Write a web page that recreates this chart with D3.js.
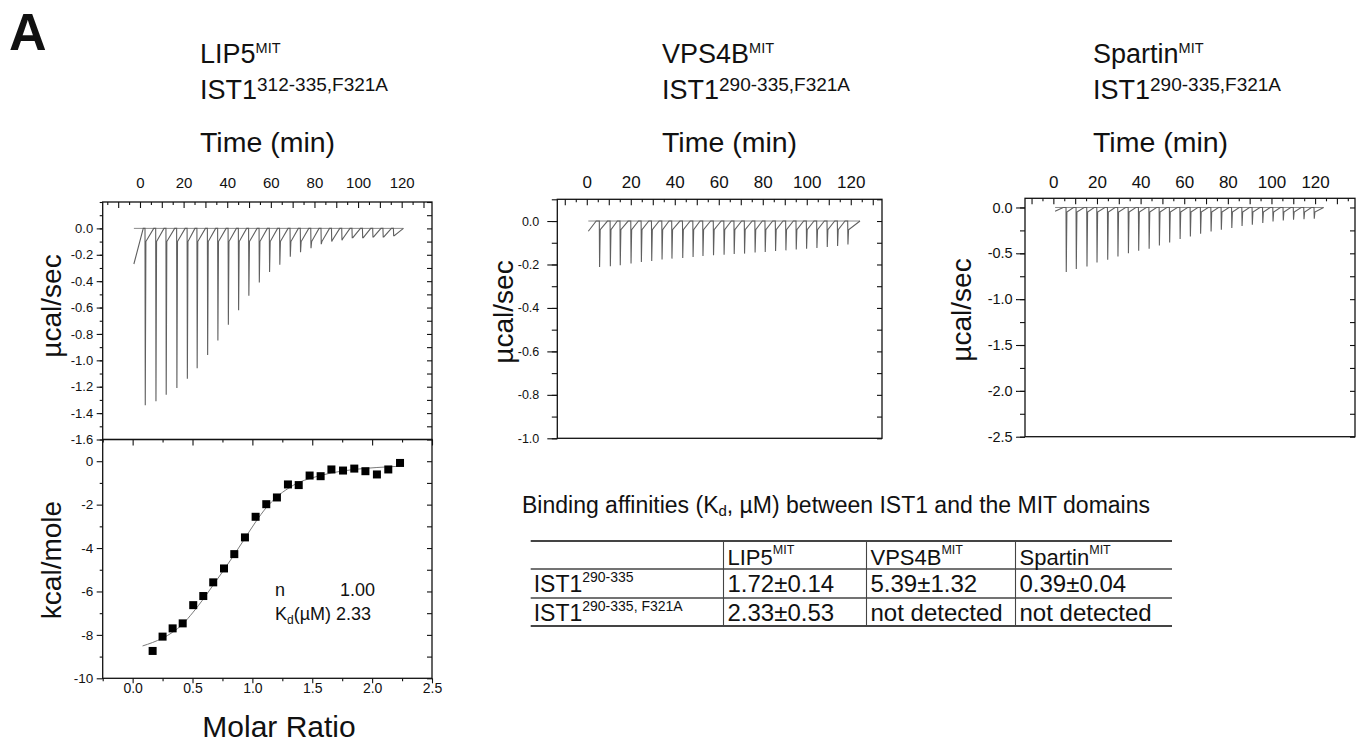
<!DOCTYPE html>
<html>
<head>
<meta charset="utf-8">
<script src="https://cdn.jsdelivr.net/npm/d3@7"></script>
<style>
  body { margin: 0; background: #fff; }
  text { font-family: "Liberation Sans", Arial, Helvetica, sans-serif; fill: #111; }
</style>
</head>
<body>
<svg id="fig" width="1369" height="744"></svg>
<script>
// ---- data ----
const timeLabels = [0, 20, 40, 60, 80, 100, 120];

// LIP5 MIT / IST1 312-335 F321A thermogram
const lipPeakTime  = [2.3, 7.2, 11.9, 16.8, 21.6, 26.1, 30.9, 35.6, 40.4, 45.1, 49.8, 54.6, 59.3,
                      64.0, 68.8, 73.5, 78.3, 83.0, 87.8, 92.5, 97.2, 102.0, 106.7, 111.4, 116.2];
const lipPeakDepth = [-1.34, -1.31, -1.26, -1.21, -1.14, -1.06, -0.96, -0.85, -0.73, -0.62, -0.51, -0.41, -0.33,
                      -0.275, -0.215, -0.18, -0.15, -0.12, -0.10, -0.09, -0.07, -0.07, -0.065, -0.065, -0.055];
const lipKnee      = [-0.1, -0.1, -0.1, -0.1, -0.1, -0.1, -0.1, -0.1, -0.1, -0.1, -0.1, -0.1, -0.1,
                      -0.1, -0.1, -0.1, -0.1, -0.1, -0.09, -0.08, -0.07, -0.07, -0.065, -0.065, -0.055];
const lipStart = [[-2.8, -0.27], [1.5, 0]];
const lipBase  = [-2.8, 120.8];

// VPS4B MIT thermogram
const vpsPeakTime  = [5.7, 10.6, 15.1, 20.0, 24.7, 29.4, 34.1, 38.6, 43.5, 48.2, 52.7, 57.5, 62.3,
                      66.9, 71.6, 76.4, 81.0, 85.7, 90.4, 95.1, 99.8, 104.5, 109.2, 113.9, 118.6];
const vpsPeakDepth = [-0.211, -0.208, -0.204, -0.196, -0.188, -0.184, -0.177, -0.173, -0.17, -0.165, -0.161, -0.158, -0.155,
                      -0.152, -0.15, -0.145, -0.143, -0.138, -0.135, -0.131, -0.127, -0.124, -0.12, -0.115, -0.108];
const vpsKnee      = [-0.04, -0.04, -0.04, -0.04, -0.04, -0.04, -0.04, -0.04, -0.04, -0.04, -0.04, -0.04, -0.04,
                      -0.04, -0.04, -0.04, -0.04, -0.04, -0.04, -0.04, -0.04, -0.04, -0.04, -0.04, -0.04];
const vpsStart = [[0.7, -0.047], [4.3, 0]];
const vpsBase  = [0.7, 124.2];

// Spartin MIT thermogram
const spaPeakTime  = [5.8, 10.4, 15.3, 19.9, 24.8, 29.5, 34.3, 39.0, 43.8, 48.5, 53.2, 58.0, 62.7,
                      67.4, 72.2, 76.9, 81.7, 86.4, 91.1, 95.9, 100.6, 105.3, 110.0, 114.8, 119.5];
const spaPeakDepth = [-0.705, -0.67, -0.644, -0.60, -0.571, -0.535, -0.498, -0.473, -0.451, -0.415, -0.382, -0.345, -0.316,
                      -0.287, -0.262, -0.243, -0.225, -0.203, -0.189, -0.17, -0.153, -0.142, -0.134, -0.127, -0.123];
const spaKnee      = [-0.05, -0.05, -0.05, -0.05, -0.05, -0.05, -0.05, -0.05, -0.05, -0.05, -0.05, -0.05, -0.05,
                      -0.05, -0.05, -0.05, -0.05, -0.05, -0.05, -0.05, -0.05, -0.05, -0.05, -0.05, -0.05];
const spaStart = [[0.8, -0.04], [4.5, 0]];
const spaBase  = [0.8, 123.9];

// integrated heats, LIP5
const molarRatio = [0.167, 0.25, 0.334, 0.418, 0.506, 0.59, 0.673, 0.763, 0.849, 0.938, 1.027, 1.116,
                    1.205, 1.297, 1.387, 1.478, 1.57, 1.66, 1.757, 1.851, 1.944, 2.04, 2.135, 2.233];
const heat = [-8.74, -8.08, -7.70, -7.47, -6.63, -6.21, -5.58, -4.94, -4.28, -3.51, -2.56, -1.98,
              -1.67, -1.07, -1.10, -0.66, -0.69, -0.38, -0.43, -0.34, -0.46, -0.61, -0.38, -0.08];
const fitRatio = [0.083, 0.167, 0.25, 0.334, 0.418, 0.506, 0.59, 0.673, 0.763, 0.849, 0.938, 1.027,
                  1.116, 1.205, 1.297, 1.387, 1.478, 1.66, 1.851, 2.04, 2.233];
const fitHeat = [-8.51, -8.35, -8.15, -7.88, -7.5, -6.95, -6.35, -5.7, -5.0, -4.3, -3.55, -2.8,
                 -2.14, -1.64, -1.26, -0.98, -0.8, -0.54, -0.38, -0.29, -0.23];

// table
const tableHeads = ["LIP5", "VPS4B", "Spartin"];
const rowNames = ["290-335", "290-335, F321A"];
const rowValues = [["1.72±0.14", "5.39±1.32", "0.39±0.04"],
                   ["2.33±0.53", "not detected", "not detected"]];

// ---- drawing ----
const svg = d3.select("#fig");

function addText(x, y, size, parts, opts = {}) {
  const t = svg.append("text").attr("x", x).attr("y", y).style("font-size", size + "px");
  if (opts.weight) t.style("font-weight", opts.weight);
  if (opts.anchor) t.attr("text-anchor", opts.anchor);
  parts.forEach(p => {
    const s = t.append("tspan").text(p.t);
    if (p.size) s.style("font-size", p.size + "px");
    if (p.dy) s.attr("dy", p.dy);
  });
  return t;
}

function yTitle(x, y, txt) {
  svg.append("text")
    .attr("transform", `translate(${x},${y}) rotate(-90)`)
    .attr("text-anchor", "middle")
    .style("font-size", "28px")
    .text(txt);
}

function styleAxis(g, width) {
  g.select(".domain").remove();
  g.selectAll("line").attr("stroke", "#111").attr("stroke-width", width || 1.1);
}

const fmt1 = d => d.toFixed(1);

const thermo = [
  { x0: 102.7, x1: 432, y0: 202, y1: 439.5, t: [-17.1, 133.9], v: [-1.6, 0.2],
    major: 0.2, right: 0.1, tick: 6, minor: 3, pad: 3.5, lab: 13, tlab: 15,
    times: lipPeakTime, depths: lipPeakDepth, knees: lipKnee, start: lipStart, base: lipBase, gap: 0.9 },
  { x0: 557.3, x1: 882, y0: 199.3, y1: 438.3, t: [-13.4, 134.2], v: [-1.0, 0.1],
    major: 0.2, right: 0.1, tick: 10, minor: 5.5, pad: 8, lab: 12.5, tlab: 17,
    times: vpsPeakTime, depths: vpsPeakDepth, knees: vpsKnee, start: vpsStart, base: vpsBase, gap: 1.2 },
  { x0: 1025, x1: 1355, y0: 198.3, y1: 436.7, t: [-13.0, 138.3], v: [-2.5, 0.1],
    major: 0.5, right: 0.25, tick: 9, minor: 5, pad: 3.3, lab: 14.5, tlab: 17,
    times: spaPeakTime, depths: spaPeakDepth, knees: spaKnee, start: spaStart, base: spaBase, gap: 1.2 }
];

thermo.forEach(p => {
  const x = d3.scaleLinear().domain(p.t).range([p.x0, p.x1]);
  const y = d3.scaleLinear().domain(p.v).range([p.y1, p.y0]);
  const lo = p.v[0];
  const majorVals = d3.range(Math.round((0 - lo) / p.major) + 1).map(i => +(lo + i * p.major).toFixed(2));
  const minorVals = d3.range(Math.round((p.v[1] - lo) / (p.major / 2)) + 1)
    .map(i => +(lo + i * p.major / 2).toFixed(3));
  const rightVals = d3.range(Math.round((p.v[1] - lo) / p.right) + 1).map(i => +(lo + i * p.right).toFixed(3));
  const t5 = d3.range(Math.ceil(p.t[0] / 5), Math.floor(p.t[1] / 5) + 1).map(i => i * 5);

  // left axis
  styleAxis(svg.append("g").attr("transform", `translate(${p.x0},0)`)
    .call(d3.axisLeft(y).tickValues(minorVals).tickSize(p.minor).tickFormat("")));
  const gl = svg.append("g").attr("transform", `translate(${p.x0},0)`)
    .call(d3.axisLeft(y).tickValues(majorVals).tickSize(p.tick).tickPadding(p.pad).tickFormat(fmt1));
  styleAxis(gl);
  gl.selectAll("text").style("font-size", p.lab + "px").attr("fill", "#111");

  // right axis, ticks inward
  styleAxis(svg.append("g").attr("transform", `translate(${p.x1},0)`)
    .call(d3.axisLeft(y).tickValues(rightVals).tickSize(5).tickFormat("")));

  // top time axis, ticks inward
  styleAxis(svg.append("g").attr("transform", `translate(0,${p.y0})`)
    .call(d3.axisBottom(x).tickValues(t5.filter(d => d % 10 !== 0)).tickSize(3).tickFormat("")));
  styleAxis(svg.append("g").attr("transform", `translate(0,${p.y0})`)
    .call(d3.axisBottom(x).tickValues(t5.filter(d => d % 10 === 0)).tickSize(6).tickFormat("")));
  const gt = svg.append("g").attr("transform", `translate(0,${p.y0})`)
    .call(d3.axisTop(x).tickValues(timeLabels).tickSize(0).tickPadding(p.y0 - 187.5));
  gt.select(".domain").remove();
  gt.selectAll("text").style("font-size", p.tlab + "px").attr("fill", "#111");

  // baseline
  svg.append("line")
    .attr("x1", x(p.base[0])).attr("x2", x(p.base[1]))
    .attr("y1", y(0)).attr("y2", y(0))
    .attr("stroke", "#8a8a8a").attr("stroke-width", 1);

  // raw trace built from each injection peak
  const pts = p.start.slice();
  p.times.forEach((t0, i) => {
    const tEnd = i < p.times.length - 1 ? p.times[i + 1] - p.gap : p.base[1];
    pts.push([t0, 0], [t0 + 0.12, p.depths[i]], [t0 + 0.4, p.knees[i]], [tEnd, 0]);
  });
  svg.append("path")
    .attr("d", d3.line().x(d => x(d[0])).y(d => y(d[1]))(pts))
    .attr("fill", "none").attr("stroke", "#5f5f5f").attr("stroke-width", 1.1);

  // frame
  svg.append("rect")
    .attr("x", p.x0).attr("y", p.y0)
    .attr("width", p.x1 - p.x0).attr("height", p.y1 - p.y0)
    .attr("fill", "none").attr("stroke", "#111").attr("stroke-width", 1.3);
});

// ---- integrated heat panel ----
const bx = d3.scaleLinear().domain([-0.25, 2.5]).range([102.7, 432]);
const by = d3.scaleLinear().domain([-10, 1]).range([678.3, 439.5]);
const q = d3.range(-1, 11).map(i => i * 0.25);
const qMaj = q.filter(d => Math.abs(d * 2 - Math.round(d * 2)) < 1e-9);
const qMin = q.filter(d => !qMaj.includes(d));
const hMaj = [-10, -8, -6, -4, -2, 0];
const hMin = [-9, -7, -5, -3, -1];
const hAll = d3.range(-10, 1);

styleAxis(svg.append("g").attr("transform", "translate(102.7,0)")
  .call(d3.axisLeft(by).tickValues(hMin).tickSize(3).tickFormat("")));
const bl = svg.append("g").attr("transform", "translate(102.7,0)")
  .call(d3.axisLeft(by).tickValues(hMaj).tickSize(6).tickPadding(3.5).tickFormat(d3.format("d")));
styleAxis(bl);
bl.selectAll("text").style("font-size", "13.5px").attr("fill", "#111").text(d => String(d));

styleAxis(svg.append("g").attr("transform", "translate(432,0)")
  .call(d3.axisLeft(by).tickValues(hAll).tickSize(5).tickFormat("")));

styleAxis(svg.append("g").attr("transform", "translate(0,439.5)")
  .call(d3.axisBottom(bx).tickValues(qMaj).tickSize(6).tickFormat("")));
styleAxis(svg.append("g").attr("transform", "translate(0,439.5)")
  .call(d3.axisBottom(bx).tickValues(qMin).tickSize(3).tickFormat("")));

styleAxis(svg.append("g").attr("transform", "translate(0,678.3)")
  .call(d3.axisBottom(bx).tickValues(qMaj).tickSize(5).tickFormat("")));
styleAxis(svg.append("g").attr("transform", "translate(0,678.3)")
  .call(d3.axisBottom(bx).tickValues(qMin).tickSize(3).tickFormat("")));
const bb = svg.append("g").attr("transform", "translate(0,678.3)")
  .call(d3.axisBottom(bx).tickValues([0, 0.5, 1, 1.5, 2, 2.5]).tickSize(0).tickPadding(5).tickFormat(fmt1));
bb.select(".domain").remove();
bb.selectAll("text").style("font-size", "14px").attr("fill", "#111");

// fit curve
svg.append("path")
  .datum(fitRatio.map((r, i) => [r, fitHeat[i]]))
  .attr("d", d3.line().x(d => bx(d[0])).y(d => by(d[1])).curve(d3.curveMonotoneX))
  .attr("fill", "none").attr("stroke", "#7a7a7a").attr("stroke-width", 1);

// data squares
const sq = 8;
svg.selectAll("rect.pt")
  .data(molarRatio.map((r, i) => [r, heat[i]]))
  .enter().append("rect").attr("class", "pt")
  .attr("x", d => bx(d[0]) - sq / 2).attr("y", d => by(d[1]) - sq / 2)
  .attr("width", sq).attr("height", sq).attr("fill", "#000");

svg.append("rect")
  .attr("x", 102.7).attr("y", 439.5).attr("width", 432 - 102.7).attr("height", 678.3 - 439.5)
  .attr("fill", "none").attr("stroke", "#111").attr("stroke-width", 1.3);

// fit parameters
addText(275, 596, 18, [{ t: "n" }]);
addText(375, 596, 18, [{ t: "1.00" }], { anchor: "end" });
addText(275, 620, 18, [{ t: "K" }, { t: "d", size: 12, dy: 4 }, { t: "(µM) 2.33", dy: -4 }]);

// ---- titles and axis names ----
addText(9, 50, 52, [{ t: "A" }], { weight: "bold" });

const titleX = [200, 662, 1093];
const titleTop = ["LIP5", "VPS4B", "Spartin"];
const titleSup = ["312-335,F321A", "290-335,F321A", "290-335,F321A"];
titleX.forEach((tx, i) => {
  addText(tx, 63, 27, [{ t: titleTop[i] }, { t: "MIT", size: 14.5, dy: -10 }]);
  addText(tx, 99, 27, [{ t: "IST1" }, { t: titleSup[i], size: 19, dy: -8 }]);
  addText(tx, 152, 28.5, [{ t: "Time (min)" }]);
});

yTitle(61, 306, "µcal/sec");
yTitle(513, 312, "µcal/sec");
yTitle(971, 310, "µcal/sec");
yTitle(61, 560, "kcal/mole");
addText(279, 737, 30, [{ t: "Molar Ratio" }], { anchor: "middle" });

// ---- table ----
addText(522, 513, 23, [{ t: "Binding affinities (K" }, { t: "d", size: 15, dy: 3 }, { t: ", µM) between IST1 and the MIT domains", dy: -3 }]);

const tLeft = 530.7, tRight = 1172;
const colX = [723.5, 866.5, 1015.5];
const lineY = [541, 569, 598, 626];
lineY.forEach((ly, i) => {
  svg.append("line").attr("x1", tLeft).attr("x2", tRight).attr("y1", ly).attr("y2", ly)
    .attr("stroke", "#444").attr("stroke-width", i === 0 || i === 3 ? 1.8 : 1.3);
});
colX.forEach(cx => {
  svg.append("line").attr("x1", cx).attr("x2", cx).attr("y1", lineY[0]).attr("y2", lineY[3])
    .attr("stroke", "#444").attr("stroke-width", 1.1);
});
tableHeads.forEach((h, j) => {
  addText(colX[j] + 4, 565, 22, [{ t: h }, { t: "MIT", size: 12.5, dy: -11 }]);
});
rowNames.forEach((r, i) => {
  const base = 592 + i * 28.5;
  addText(tLeft + 3, base, 23, [{ t: "IST1" }, { t: r, size: 14, dy: -10 }]);
  rowValues[i].forEach((v, j) => addText(colX[j] + 4, base, 24, [{ t: v }]));
});
</script>
</body>
</html>
